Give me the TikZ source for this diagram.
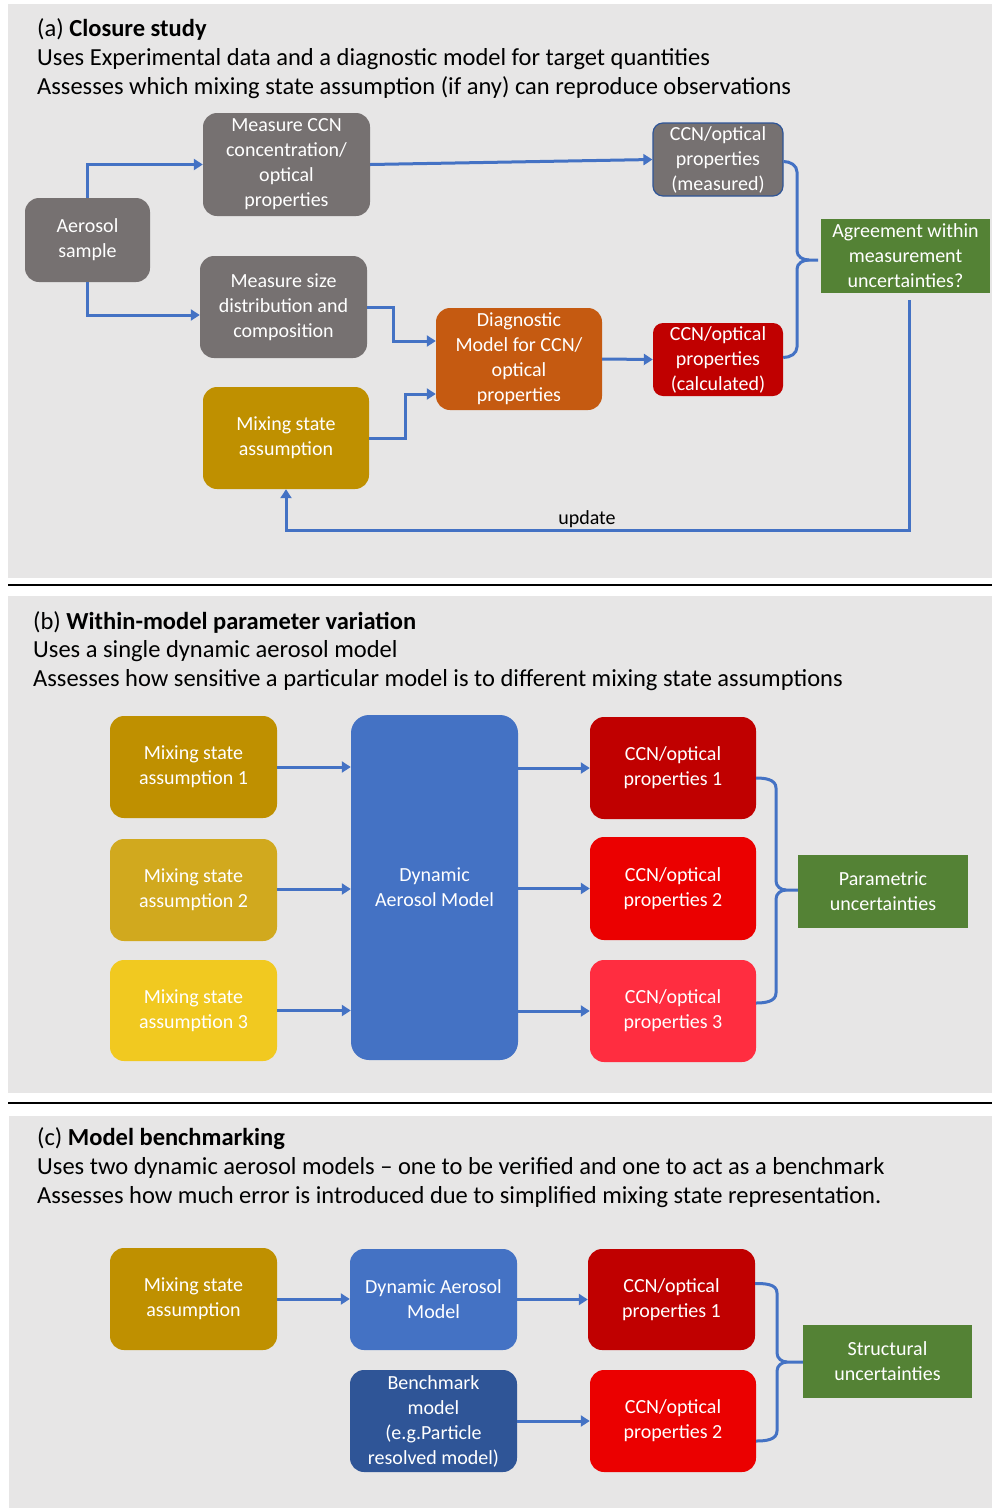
\documentclass[tikz,border=0pt]{standalone}
\usepackage{fontspec}
\setmainfont{Carlito}
\usetikzlibrary{arrows.meta}
\definecolor{bgg}{HTML}{E7E6E6}
\definecolor{cgray}{HTML}{767171}
\definecolor{cblue}{HTML}{4472C4}
\definecolor{cdblue}{HTML}{2F5597}
\definecolor{cgreen}{HTML}{548235}
\definecolor{cgold}{HTML}{BF9000}
\definecolor{cgoldb}{HTML}{D1A91E}
\definecolor{cgoldc}{HTML}{F1C920}
\definecolor{corange}{HTML}{C55A11}
\definecolor{cred}{HTML}{C00000}
\definecolor{credb}{HTML}{EB0000}
\definecolor{credc}{HTML}{FF2D40}
\newcommand\nodefont{\fontsize{20}{25}\selectfont}
\newcommand\headfont{\fontsize{24.5}{29}\selectfont}
\begin{document}
\begin{tikzpicture}[x=1pt,y=-1pt,
  rbox/.style={rounded corners=14pt, text=white, align=center, font=\nodefont, inner sep=2pt},
  sbox/.style={fill=cgreen, text=white, align=center, font=\nodefont, inner sep=2pt},
  head/.style={anchor=base west, font=\headfont, inner sep=0pt},
  arr/.style={draw=cblue, line width=3pt, -{Triangle[length=9pt,width=11pt]}},
  brc/.style={draw=cblue, line width=3pt},
]
\useasboundingbox (0,0) rectangle (992,1508);
\fill[white] (0,0) rectangle (992,1508);
% panels
\fill[bgg] (8,4) rectangle (992,578);
\fill[bgg] (8,596) rectangle (992,1093);
\fill[bgg] (9,1116) rectangle (992,1508);
\draw[line width=1.5pt] (8,585) -- (992,585);
\draw[line width=1.5pt] (8,1103) -- (992,1103);

% ---------- panel (a)
\node[head] (ha1) at (37,36) {(a) \textbf{Closure study}};
\node[head] (ha2) at (37,65) {Uses Experimental data and a diagnostic model for target quantities};
\node[head] (ha3) at (37,94) {Assesses which mixing state assumption (if any) can reproduce observations};

\node[rbox, fill=cgray, minimum width=125pt, minimum height=84pt] (aer) at (87.5,240) {Aerosol\\sample};
\node[rbox, fill=cgray, minimum width=167pt, minimum height=103pt] (mccn) at (286.5,164.5) {Measure CCN\\concentration/\\optical\\properties};
\node[rbox, fill=cgray, draw=cdblue, line width=1.2pt, minimum width=130pt, minimum height=73pt, rounded corners=10pt] (ccnm) at (718,159.5) {CCN/optical\\properties\\(measured)};
\node[sbox, minimum width=169pt, minimum height=74pt] (agr) at (905.5,256) {Agreement within\\measurement\\uncertainties?};
\node[rbox, fill=cgray, minimum width=167pt, minimum height=102pt] (msize) at (283.5,307) {Measure size\\distribution and\\composition};
\node[rbox, fill=corange, minimum width=166pt, minimum height=102pt] (diag) at (519,359) {Diagnostic\\Model for CCN/\\optical\\properties};
\node[rbox, fill=cred, minimum width=130pt, minimum height=73pt, rounded corners=10pt] (calc) at (718,359.5) {CCN/optical\\properties\\(calculated)};
\node[rbox, fill=cgold, minimum width=166pt, minimum height=102pt] (mix) at (286,438) {Mixing state\\assumption};

\draw[arr] (aer.north) |- (mccn.west);
\draw[arr] (aer.south) |- ([yshift=-8pt]msize.west);
\draw[arr] (mccn.east) -- (ccnm.west);
\draw[arr] (msize.east) -- ++(26,0) |- ([yshift=18pt]diag.west);
\draw[arr] (mix.east) -- ++(36,0) |- ([yshift=-35pt]diag.west);
\draw[arr] (diag.east) -- (calc.west);
\coordinate (ta) at (809,260);
\draw[brc] ([yshift=-2pt]ccnm.east) to[out=0,in=90] (797,172) -- (797,251) to[out=-90,in=180] (ta) -- (818,260);
\draw[brc] (ta) to[out=180,in=90] (797,269) -- (797,347) to[out=-90,in=0] ([yshift=2pt]calc.east);
\coordinate (us) at (909,300);
\coordinate (uc) at (909,530);
\draw[arr] (us) -- (uc) -| (mix.south);
\node[font=\nodefont, inner sep=0pt, anchor=base] (upd) at (587,524) {update};

% ---------- panel (b)
\node[head] (hb1) at (33,629) {(b) \textbf{Within-model parameter variation}};
\node[head] (hb2) at (33,657) {Uses a single dynamic aerosol model};
\node[head] (hb3) at (33,686) {Assesses how sensitive a particular model is to different mixing state assumptions};

\node[rbox, fill=cgold, minimum width=167pt, minimum height=102pt] (bm1) at (193.5,767) {Mixing state\\assumption 1};
\node[rbox, fill=cgoldb, minimum width=167pt, minimum height=102pt] (bm2) at (193.5,890) {Mixing state\\assumption 2};
\node[rbox, fill=cgoldc, minimum width=167pt, minimum height=101pt] (bm3) at (193.5,1010.5) {Mixing state\\assumption 3};
\node[rbox, fill=cblue, minimum width=167pt, minimum height=345pt, rounded corners=18pt] (dam) at (434.5,887.5) {Dynamic\\Aerosol Model};
\node[rbox, fill=cred, minimum width=166pt, minimum height=102pt] (bc1) at (673,768) {CCN/optical\\properties 1};
\node[rbox, fill=credb, minimum width=166pt, minimum height=103pt] (bc2) at (673,888.5) {CCN/optical\\properties 2};
\node[rbox, fill=credc, minimum width=166pt, minimum height=102pt] (bc3) at (673,1011) {CCN/optical\\properties 3};
\node[sbox, minimum width=170pt, minimum height=73pt] (par) at (883,891.5) {Parametric\\uncertainties};

\draw[arr] (bm1.east) -- (bm1.east -| dam.west);
\draw[arr] ([yshift=1pt]bm2.east) -- ([yshift=1pt]bm2.east -| dam.west);
\draw[arr] (bm3.east) -- (bm3.east -| dam.west);
\draw[arr] (bc1.west -| dam.east) -- (bc1.west);
\draw[arr] (bc2.west -| dam.east) -- (bc2.west);
\draw[arr] (bc3.west -| dam.east) -- (bc3.west);
\coordinate (tb) at (786,890);
\draw[brc] ([yshift=-10pt]bc1.east) to[out=0,in=90] (776,788) -- (776,881) to[out=-90,in=180] (tb) -- (par.west |- tb);
\draw[brc] (tb) to[out=180,in=90] (776,899) -- (776,993) to[out=-90,in=0] ([yshift=8pt]bc3.east);

% ---------- panel (c)
\node[head] (hc1) at (37,1145) {(c) \textbf{Model benchmarking}};
\node[head] (hc2) at (37,1174) {Uses two dynamic aerosol models -- one to be verified and one to act as a benchmark};
\node[head] (hc3) at (37,1203) {Assesses how much error is introduced due to simplified mixing state representation.};

\node[rbox, fill=cgold, minimum width=167pt, minimum height=102pt] (cmix) at (193.5,1299) {Mixing state\\assumption};
\node[rbox, fill=cblue, minimum width=167pt, minimum height=101pt] (cdam) at (433.5,1299.5) {Dynamic Aerosol\\Model};
\node[rbox, fill=cdblue, minimum width=167pt, minimum height=102pt] (cbench) at (433.5,1421) {Benchmark\\model\\(e.g.Particle\\resolved model)};
\node[rbox, fill=cred, minimum width=167pt, minimum height=101pt] (cc1) at (671.5,1299.5) {CCN/optical\\properties 1};
\node[rbox, fill=credb, minimum width=166pt, minimum height=102pt] (cc2) at (673,1421) {CCN/optical\\properties 2};
\node[sbox, minimum width=169pt, minimum height=73pt] (str) at (887.5,1361.5) {Structural\\uncertainties};

\draw[arr] (cmix.east) -- (cmix.east -| cdam.west);
\draw[arr] (cdam.east) -- (cdam.east -| cc1.west);
\draw[arr] (cbench.east) -- (cbench.east -| cc2.west);
\coordinate (tc) at (787,1362);
\draw[brc] ([yshift=16pt]cc1.east) to[out=0,in=90] (777,1293) -- (777,1353) to[out=-90,in=180] (tc) -- (str.west |- tc);
\draw[brc] (tc) to[out=180,in=90] (777,1371) -- (777,1431) to[out=-90,in=0] ([yshift=-20pt]cc2.east);
\end{tikzpicture}
\end{document}
